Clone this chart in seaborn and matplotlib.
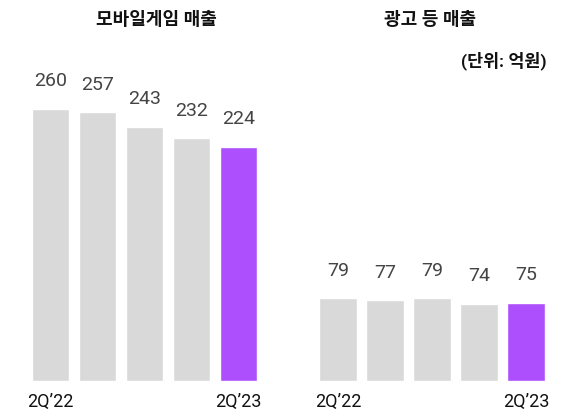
import matplotlib
matplotlib.use("Agg")
import matplotlib.pyplot as plt
import seaborn as sns

# --- datos ---
quarters = ["2Q’22", "3Q’22", "4Q’22", "1Q’23", "2Q’23"]
mobile_game = [260, 257, 243, 232, 224]
ads_etc = [79, 77, 79, 74, 75]
titles = ["모바일게임 매출", "광고 등 매출"]
unit_note = "(단위: 억원)"

GRAY = "#d9d9d9"
PURPLE = "#ae4ffd"
colors = [GRAY, GRAY, GRAY, GRAY, PURPLE]

sns.set_theme(style="white")
plt.rcParams["font.family"] = ["Roboto", "Noto Sans CJK KR", "DejaVu Sans"]

fig = plt.figure(figsize=(5.72, 4.14), dpi=100)
W, H = 572, 414

# posiciones de ejes (en píxeles -> fracción)
panels = [(27, mobile_game), (314.5, ads_etc)]
title_x = [156, 430]
for (left_px, vals), title, tx in zip(panels, titles, title_x):
    ax = fig.add_axes([left_px / W, 32 / H, 235 / W, 314 / H])
    sns.barplot(x=quarters, y=vals, hue=quarters, palette=colors,
                legend=False, width=0.79, ax=ax, saturation=1)
    ax.set_xlim(-0.5, 4.5)
    ax.set_ylim(0, 300)
    for c in ax.containers:
        ax.bar_label(c, padding=14, fontsize=14, color="#444444")
    ax.set_xticks([0, 4])
    ax.set_xticklabels([quarters[0], quarters[-1]], fontsize=13, color="#111111")
    ax.tick_params(axis="x", length=0, pad=8)
    ax.set_yticks([])
    ax.set_xlabel("")
    ax.set_ylabel("")
    sns.despine(ax=ax, left=True, bottom=True)
    fig.text(tx / W, 1 - 20 / H, title, ha="center", va="center",
             fontsize=13, fontweight="bold", color="#111111")

fig.text(547 / W, 1 - 61 / H, unit_note, ha="right", va="center",
         fontsize=12.5, fontweight="bold", color="#111111")

fig.savefig("out.png", dpi=100)
